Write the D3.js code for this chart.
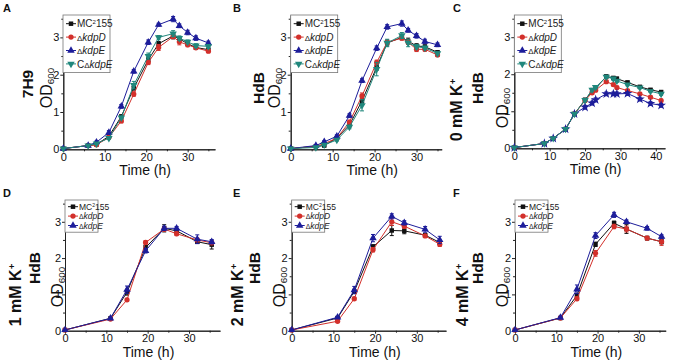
<!DOCTYPE html>
<html>
<head>
<meta charset="utf-8">
<script src="https://cdn.jsdelivr.net/npm/d3@7"></script>
<style>
  body { margin: 0; background: #fff; }
  text { font-family: "Liberation Sans", Arial, sans-serif; }
</style>
</head>
<body>
<div id="chart"></div>
<script>
// ---- data ----
var timeAB = [0, 6, 8, 11, 14, 17, 20.5, 23, 26.5, 28, 30, 32, 35];
var timeC = [0, 8.5, 11, 14.5, 17, 20, 22, 23, 26, 28, 29, 32, 35.5, 38.5, 41.5];
var timeDEF = [0, 11, 15, 19.5, 24, 27, 32, 35.5];

var strains = ["MC2155", "kdpD", "kdpE", "CkdpE"];
var xTicksAB = [0, 10, 20, 30];
var xTicksC = [0, 10, 20, 30, 40];
var yTicks = [0, 1, 2, 3];

// panel A, 7H9
var mcA    = [0.02, 0.10, 0.13, 0.35, 0.88, 1.64, 2.40, 2.83, 3.04, 2.96, 2.83, 2.73, 2.67];
var kdpDA  = [0.02, 0.10, 0.12, 0.32, 0.76, 1.48, 2.33, 2.73, 3.02, 2.88, 2.80, 2.72, 2.63];
var kdpEA  = [0.02, 0.10, 0.19, 0.45, 1.15, 2.09, 2.87, 3.34, 3.49, 3.31, 3.13, 2.98, 2.85];
var ckdpEA = [0.02, 0.10, 0.15, 0.30, 0.85, 1.72, 2.50, 3.00, 3.10, 2.98, 2.88, 2.78, 2.76];
var mcAErr    = [0, 0.02, 0.02, 0.03, 0.04, 0.05, 0.05, 0.06, 0.08, 0.05, 0.05, 0.05, 0.04];
var kdpDAErr  = [0, 0.02, 0.02, 0.03, 0.05, 0.06, 0.06, 0.08, 0.05, 0.08, 0.05, 0.04, 0.04];
var kdpEAErr  = [0, 0.02, 0.03, 0.05, 0.05, 0.05, 0.06, 0.04, 0.07, 0.05, 0.06, 0.06, 0.05];
var ckdpEAErr = [0, 0.02, 0.02, 0.03, 0.04, 0.10, 0.08, 0.05, 0.08, 0.06, 0.05, 0.05, 0.05];

// panel B, HdB
var mcB    = [0.02, 0.08, 0.10, 0.30, 0.65, 1.30, 2.20, 2.85, 3.00, 2.90, 2.77, 2.75, 2.60];
var kdpDB  = [0.02, 0.08, 0.15, 0.30, 0.73, 1.43, 2.33, 2.87, 2.98, 2.87, 2.68, 2.68, 2.53];
var kdpEB  = [0.02, 0.10, 0.20, 0.35, 0.90, 1.84, 2.71, 3.28, 3.37, 3.19, 3.04, 2.89, 2.80];
var ckdpEB = [0.02, 0.05, 0.12, 0.25, 0.60, 1.18, 2.15, 2.85, 3.05, 2.85, 2.75, 2.72, 2.57];
var mcBErr    = [0, 0.02, 0.02, 0.03, 0.04, 0.08, 0.08, 0.08, 0.06, 0.08, 0.06, 0.05, 0.04];
var kdpDBErr  = [0, 0.02, 0.02, 0.03, 0.05, 0.08, 0.06, 0.05, 0.05, 0.06, 0.06, 0.05, 0.04];
var kdpEBErr  = [0, 0.02, 0.03, 0.04, 0.05, 0.05, 0.06, 0.06, 0.07, 0.05, 0.06, 0.06, 0.05];
var ckdpEBErr = [0, 0.02, 0.02, 0.03, 0.05, 0.15, 0.18, 0.10, 0.08, 0.10, 0.06, 0.05, 0.04];

// panel C, 0 mM K+ HdB
var mcC    = [0.02, 0.13, 0.27, 0.52, 0.93, 1.31, 1.55, 1.62, 1.94, 1.90, 1.88, 1.78, 1.66, 1.58, 1.52];
var kdpDC  = [0.02, 0.13, 0.27, 0.52, 0.93, 1.29, 1.50, 1.57, 1.80, 1.72, 1.64, 1.56, 1.47, 1.38, 1.29];
var kdpEC  = [0.02, 0.13, 0.27, 0.52, 0.93, 1.11, 1.22, 1.31, 1.47, 1.47, 1.47, 1.48, 1.33, 1.21, 1.16];
var ckdpEC = [0.02, 0.13, 0.27, 0.52, 0.93, 1.30, 1.58, 1.65, 1.93, 1.88, 1.82, 1.72, 1.64, 1.54, 1.47];
var mcCErr    = [0, 0.02, 0.02, 0.02, 0.03, 0.04, 0.04, 0.04, 0.04, 0.04, 0.04, 0.03, 0.03, 0.03, 0.04];
var kdpDCErr  = [0, 0.02, 0.02, 0.02, 0.03, 0.04, 0.04, 0.04, 0.04, 0.04, 0.04, 0.03, 0.03, 0.03, 0.04];
var kdpECErr  = [0, 0.02, 0.02, 0.02, 0.03, 0.05, 0.05, 0.05, 0.05, 0.05, 0.05, 0.05, 0.05, 0.05, 0.05];
var ckdpECErr = [0, 0.02, 0.02, 0.02, 0.03, 0.04, 0.04, 0.04, 0.04, 0.04, 0.04, 0.03, 0.03, 0.03, 0.04];

// panel D, 1 mM K+ HdB
var mcD    = [0.02, 0.34, 1.06, 2.29, 2.82, 2.75, 2.45, 2.37];
var kdpDD  = [0.02, 0.32, 0.85, 2.43, 2.80, 2.67, 2.50, 2.42];
var kdpED  = [0.02, 0.34, 1.13, 2.20, 2.82, 2.82, 2.52, 2.45];
var mcDErr   = [0, 0.02, 0.08, 0.06, 0.10, 0.05, 0.05, 0.12];
var kdpDDErr = [0, 0.02, 0.04, 0.05, 0.06, 0.05, 0.05, 0.05];
var kdpEDErr = [0, 0.02, 0.10, 0.06, 0.06, 0.05, 0.12, 0.06];

// panel E, 2 mM K+ HdB
var mcE    = [0.02, 0.35, 1.08, 2.31, 2.76, 2.75, 2.63, 2.43];
var kdpDE  = [0.02, 0.26, 0.88, 2.23, 3.00, 2.88, 2.61, 2.38];
var kdpEE  = [0.02, 0.37, 1.12, 2.55, 3.15, 2.97, 2.79, 2.50];
var mcEErr   = [0, 0.02, 0.06, 0.06, 0.14, 0.08, 0.04, 0.06];
var kdpDEErr = [0, 0.02, 0.04, 0.06, 0.10, 0.06, 0.04, 0.06];
var kdpEEErr = [0, 0.02, 0.10, 0.10, 0.07, 0.06, 0.08, 0.10];

// panel F, 4 mM K+ HdB
var mcF    = [0.02, 0.35, 0.97, 2.38, 2.96, 2.80, 2.55, 2.45];
var kdpDF  = [0.02, 0.35, 0.88, 2.13, 2.87, 2.80, 2.55, 2.45];
var kdpEF  = [0.02, 0.36, 1.14, 2.62, 3.19, 3.00, 2.82, 2.59];
var mcFErr   = [0, 0.02, 0.06, 0.06, 0.06, 0.12, 0.05, 0.06];
var kdpDFErr = [0, 0.02, 0.05, 0.08, 0.06, 0.08, 0.05, 0.10];
var kdpEFErr = [0, 0.02, 0.12, 0.08, 0.07, 0.05, 0.05, 0.05];

// ---- styles ----
var colors = { MC2155: "#111111", kdpD: "#d3302b", kdpE: "#1d1d9a", CkdpE: "#20877c" };

var W = 673, H = 364;
var svg = d3.select("#chart").append("svg")
  .attr("width", W).attr("height", H);
svg.append("rect").attr("width", W).attr("height", H).attr("fill", "#fff");

function symbolFor(key, star) {
  if (key == "MC2155") return d3.symbol().type(d3.symbolSquare).size(20)();
  if (key == "kdpD") return d3.symbol().type(d3.symbolCircle).size(22)();
  if (key == "kdpE") return d3.symbol().type(star ? d3.symbolStar : d3.symbolTriangle).size(star ? 30 : 24)();
  return d3.symbol().type(d3.symbolTriangle).size(24)();
}

// legend label with italics / superscript
function legendLabel(t, key, fs) {
  if (key == "MC2155") {
    t.append("tspan").text("MC");
    t.append("tspan").text("2").attr("font-size", fs * 0.6).attr("dy", -fs * 0.35);
    t.append("tspan").text("155").attr("dy", fs * 0.35);
  } else if (key == "kdpD") {
    t.append("tspan").text("\u0394").attr("font-size", fs * 0.8);
    t.append("tspan").text("kdpD").attr("font-style", "italic");
  } else if (key == "kdpE") {
    t.append("tspan").text("\u0394").attr("font-size", fs * 0.8);
    t.append("tspan").text("kdpE").attr("font-style", "italic");
  } else {
    t.append("tspan").text("C");
    t.append("tspan").text("\u0394").attr("font-size", fs * 0.8);
    t.append("tspan").text("kdpE").attr("font-style", "italic");
  }
}

function drawPanel(p) {
  var x = d3.scaleLinear().domain([0, p.xmax]).range([p.left, p.right]);
  var y = d3.scaleLinear().domain([0, 3.6]).range([p.bottom, p.top]);
  var g = svg.append("g");

  // axes
  var xa = g.append("g").attr("transform", "translate(0," + p.bottom + ")")
    .call(d3.axisBottom(x).tickValues(p.xTicks).tickFormat(d3.format("d")).tickSize(3).tickPadding(1).tickSizeOuter(0));
  g.append("g").attr("transform", "translate(0," + p.bottom + ")")
    .call(d3.axisBottom(x).tickValues(p.xTicks.map(function(v) { return v + 5; }).filter(function(v) { return v < p.xmax; }))
      .tickSize(2).tickFormat("").tickSizeOuter(0));
  var ya = g.append("g").attr("transform", "translate(" + p.left + ",0)")
    .call(d3.axisLeft(y).tickValues(yTicks).tickFormat(d3.format("d")).tickSize(3).tickPadding(1).tickSizeOuter(0));
  g.append("g").attr("transform", "translate(" + p.left + ",0)")
    .call(d3.axisLeft(y).tickValues([0.5, 1.5, 2.5, 3.5]).tickSize(2).tickFormat("").tickSizeOuter(0));
  g.selectAll(".domain, .tick line").attr("stroke", "#222").attr("stroke-width", 1);
  xa.selectAll("text").attr("font-size", 11).attr("fill", "#111");
  ya.selectAll("text").attr("font-size", 11).attr("fill", "#111");

  // x label
  g.append("text").attr("x", (p.left + p.right) / 2 + 6).attr("y", p.bottom + 26)
    .attr("text-anchor", "middle").attr("font-size", 14).attr("fill", "#111").text("Time (h)");

  // panel letter
  g.append("text").attr("x", p.letterX).attr("y", p.top - 3)
    .attr("font-size", 11).attr("font-weight", "bold").attr("fill", "#111").text(p.letter);

  // y labels
  p.yLabels.forEach(function(l) {
    var t = g.append("text")
      .attr("transform", "translate(" + l.x + "," + l.y + ") rotate(-90)")
      .attr("text-anchor", "middle").attr("fill", "#111")
      .attr("font-size", l.fs).attr("font-weight", l.bold ? "bold" : "normal");
    if (l.sup) {
      t.append("tspan").text(l.text);
      t.append("tspan").text(l.sup).attr("font-size", l.fs * 0.6).attr("dy", -l.fs * 0.4);
    } else if (l.sub) {
      t.append("tspan").text(l.text);
      t.append("tspan").text(l.sub).attr("font-size", l.fs * 0.62).attr("dy", l.fs * 0.12);
    } else {
      t.text(l.text);
    }
  });

  // series
  p.series.forEach(function(s) {
    var pts = s.values.map(function(v, i) { return { t: p.time[i], v: v, e: s.err[i] }; });
    var c = colors[s.key];
    g.append("path").datum(pts)
      .attr("fill", "none").attr("stroke", c).attr("stroke-width", 1)
      .attr("d", d3.line().x(function(d) { return x(d.t); }).y(function(d) { return y(d.v); }));
    var eb = g.append("g");
    pts.forEach(function(d) {
      if (!d.e) return;
      eb.append("line").attr("x1", x(d.t)).attr("x2", x(d.t))
        .attr("y1", y(d.v - d.e)).attr("y2", y(d.v + d.e)).attr("stroke", c).attr("stroke-width", 1);
      [d.v - d.e, d.v + d.e].forEach(function(yy) {
        eb.append("line").attr("x1", x(d.t) - 2).attr("x2", x(d.t) + 2)
          .attr("y1", y(yy)).attr("y2", y(yy)).attr("stroke", c).attr("stroke-width", 1);
      });
    });
    g.selectAll(null).data(pts).enter().append("path")
      .attr("d", symbolFor(s.key, p.star && s.key == "kdpE"))
      .attr("fill", c)
      .attr("transform", function(d) {
        return "translate(" + x(d.t) + "," + y(d.v) + ")" + (s.key == "CkdpE" ? " rotate(180)" : "");
      });
  });

  // legend
  var L = p.legend;
  var lg = g.append("g").attr("transform", "translate(" + L.x + "," + L.y + ")");
  lg.append("rect").attr("width", L.w).attr("height", L.rowH * p.series.length + 4)
    .attr("fill", "#fff").attr("stroke", "#777").attr("stroke-width", 0.8);
  p.series.forEach(function(s, i) {
    var c = colors[s.key];
    var cy = 2 + L.rowH * (i + 0.5);
    lg.append("line").attr("x1", 3).attr("x2", 13).attr("y1", cy).attr("y2", cy)
      .attr("stroke", c).attr("stroke-width", 1);
    lg.append("path").attr("d", symbolFor(s.key, false)).attr("fill", c)
      .attr("transform", "translate(8," + cy + ")" + (s.key == "CkdpE" ? " rotate(180)" : ""));
    var t = lg.append("text").attr("x", 14).attr("y", cy + L.fs * 0.36)
      .attr("font-size", L.fs).attr("fill", "#222");
    legendLabel(t, s.key, L.fs);
  });
}

var odLabel = function(x, y) { return { text: "OD", sub: "600", x: x, y: y, fs: 16 }; };

var panels = [
  { letter: "A", letterX: 3, left: 63.3, right: 215, top: 15, bottom: 149.3, xmax: 36.6, xTicks: xTicksAB, time: timeAB,
    yLabels: [{ text: "7H9", x: 33, y: 84, fs: 15.5, bold: true }, odLabel(52, 88)],
    legend: { x: 63, y: 15, w: 47, rowH: 13.4, fs: 10 },
    series: [{ key: "MC2155", values: mcA, err: mcAErr }, { key: "kdpD", values: kdpDA, err: kdpDAErr },
             { key: "kdpE", values: kdpEA, err: kdpEAErr }, { key: "CkdpE", values: ckdpEA, err: ckdpEAErr }] },
  { letter: "B", letterX: 233, left: 290.7, right: 441.7, top: 15, bottom: 149.3, xmax: 36, xTicks: xTicksAB, time: timeAB,
    yLabels: [{ text: "HdB", x: 264, y: 88, fs: 15.5, bold: true }, odLabel(280, 88)],
    legend: { x: 290.7, y: 15, w: 47, rowH: 13.4, fs: 10 },
    series: [{ key: "MC2155", values: mcB, err: mcBErr }, { key: "kdpD", values: kdpDB, err: kdpDBErr },
             { key: "kdpE", values: kdpEB, err: kdpEBErr }, { key: "CkdpE", values: ckdpEB, err: ckdpEBErr }] },
  { letter: "C", letterX: 453, left: 514.3, right: 665, top: 15, bottom: 148.3, xmax: 42.6, xTicks: xTicksC, time: timeC, star: true,
    yLabels: [{ text: "0 mM K", sup: "+", x: 462, y: 110, fs: 16, bold: true },
              { text: "HdB", x: 483, y: 88, fs: 15.5, bold: true }, odLabel(508, 108)],
    legend: { x: 514.3, y: 15, w: 47, rowH: 13.4, fs: 10 },
    series: [{ key: "MC2155", values: mcC, err: mcCErr }, { key: "kdpD", values: kdpDC, err: kdpDCErr },
             { key: "kdpE", values: kdpEC, err: kdpECErr }, { key: "CkdpE", values: ckdpEC, err: ckdpECErr }] },
  { letter: "D", letterX: 3, left: 65, right: 220, top: 200, bottom: 330.7, xmax: 37.5, xTicks: xTicksAB, time: timeDEF,
    yLabels: [{ text: "1 mM K", sup: "+", x: 21, y: 295, fs: 16, bold: true },
              { text: "HdB", x: 40, y: 268, fs: 15.5, bold: true }, odLabel(63, 287)],
    legend: { x: 65, y: 200, w: 33, rowH: 9.4, fs: 8.5 },
    series: [{ key: "MC2155", values: mcD, err: mcDErr }, { key: "kdpD", values: kdpDD, err: kdpDDErr },
             { key: "kdpE", values: kdpED, err: kdpEDErr }] },
  { letter: "E", letterX: 233, left: 291.7, right: 446, top: 200, bottom: 330.7, xmax: 37, xTicks: xTicksAB, time: timeDEF,
    yLabels: [{ text: "2 mM K", sup: "+", x: 243, y: 295, fs: 16, bold: true },
              { text: "HdB", x: 260, y: 268, fs: 15.5, bold: true }, odLabel(285, 287)],
    legend: { x: 291.7, y: 200, w: 33, rowH: 9.4, fs: 8.5 },
    series: [{ key: "MC2155", values: mcE, err: mcEErr }, { key: "kdpD", values: kdpDE, err: kdpDEErr },
             { key: "kdpE", values: kdpEE, err: kdpEEErr }] },
  { letter: "F", letterX: 453, left: 515, right: 665.7, top: 200, bottom: 330.7, xmax: 36.5, xTicks: xTicksAB, time: timeDEF,
    yLabels: [{ text: "4 mM K", sup: "+", x: 468, y: 295, fs: 16, bold: true },
              { text: "HdB", x: 483, y: 268, fs: 15.5, bold: true }, odLabel(508, 287)],
    legend: { x: 515, y: 200, w: 33, rowH: 9.4, fs: 8.5 },
    series: [{ key: "MC2155", values: mcF, err: mcFErr }, { key: "kdpD", values: kdpDF, err: kdpDFErr },
             { key: "kdpE", values: kdpEF, err: kdpEFErr }] }
];

panels.forEach(drawPanel);
</script>
</body>
</html>
